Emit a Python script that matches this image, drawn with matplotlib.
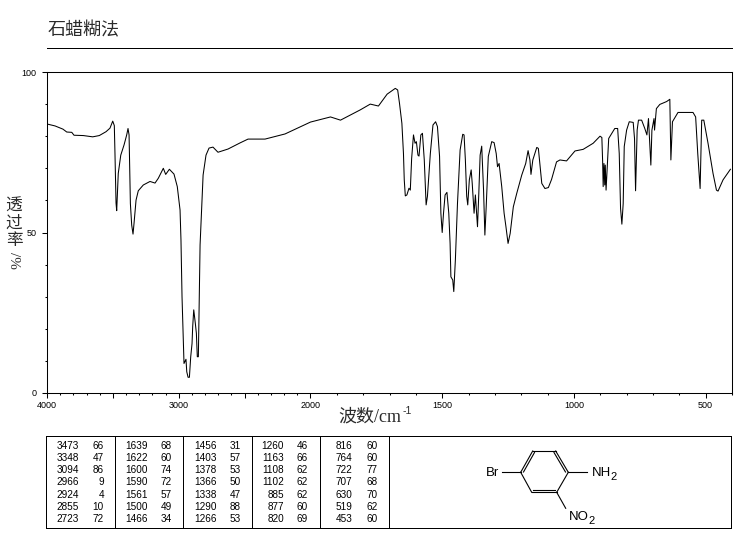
#!/usr/bin/env python3
"""IR spectrum chart (paraffin mull) with peak table and structure."""

import matplotlib
matplotlib.use('Agg')
import matplotlib.pyplot as plt
import numpy as np
from matplotlib.ticker import FixedLocator, FixedFormatter

# ============================================================
# DATA
# ============================================================

wavenumber = [
    4000, 3939, 3879, 3850, 3812, 3795, 3724, 3653, 3603, 3552, 3522, 3501, 3489, 3484, 3476, 3471,
    3459, 3440, 3415, 3395, 3385, 3377, 3367, 3357, 3347, 3339, 3324, 3307, 3269, 3218, 3180, 3155,
    3117, 3099, 3071, 3036, 3011, 2990, 2983, 2975, 2965, 2960, 2945, 2939, 2929, 2919, 2909, 2899,
    2894, 2886, 2874, 2866, 2859, 2851, 2846, 2838, 2833, 2815, 2793, 2770, 2740, 2702, 2671, 2626,
    2535, 2474, 2345, 2193, 2000, 1924, 1886, 1811, 1773, 1742, 1709, 1678, 1669, 1662, 1653, 1647,
    1644, 1640, 1634, 1626, 1621, 1616, 1609, 1603, 1598, 1592, 1588, 1581, 1575, 1568, 1561, 1556,
    1545, 1535, 1525, 1518, 1510, 1505, 1500, 1495, 1489, 1482, 1475, 1470, 1467, 1460, 1456, 1450,
    1442, 1432, 1422, 1417, 1412, 1407, 1403, 1397, 1390, 1386, 1379, 1374, 1366, 1361, 1356, 1350,
    1343, 1338, 1333, 1325, 1312, 1303, 1295, 1290, 1284, 1274, 1265, 1258, 1250, 1242, 1230, 1217,
    1198, 1183, 1174, 1167, 1163, 1156, 1141, 1135, 1122, 1110, 1097, 1085, 1066, 1053, 1028, 996,
    965, 927, 901, 894, 891, 889, 886, 883, 881, 878, 868, 845, 834, 828, 823, 818,
    813, 809, 800, 790, 775, 770, 766, 760, 755, 743, 731, 723, 717, 708, 704, 696,
    694, 687, 674, 648, 636, 632, 626, 605, 573, 548, 538, 530, 521, 515, 507, 491,
    472, 459, 453, 434, 406,
]
transmittance = [
    83.8, 83.2, 82.2, 81.3, 81.2, 80.3, 80.2, 79.8, 80.2, 81.4, 82.5, 84.7, 83.3, 74.6, 59.2, 56.8,
    68.4, 74.1, 77.3, 80.4, 82.4, 80.4, 59.0, 52.3, 49.5, 53.0, 60.1, 63.0, 64.8, 65.9, 65.4, 66.9,
    70.0, 68.1, 69.7, 68.2, 64.3, 57.0, 47.7, 30.0, 16.0, 9.2, 10.5, 6.6, 4.9, 4.9, 11.3, 15.4,
    20.7, 25.9, 21.7, 18.6, 11.3, 11.3, 24.3, 46.1, 50.8, 67.9, 74.1, 76.3, 76.6, 75.0, 75.4, 76.0,
    77.9, 79.1, 79.1, 80.7, 84.4, 86.0, 85.0, 88.2, 90.0, 89.4, 93.1, 94.9, 94.4, 90.2, 84.0, 74.6,
    66.4, 61.4, 61.7, 63.8, 63.2, 73.0, 80.4, 77.8, 78.3, 74.1, 73.8, 80.4, 80.9, 72.6, 58.6, 61.3,
    74.6, 83.5, 84.5, 83.0, 73.7, 56.0, 50.0, 56.0, 61.7, 62.5, 56.0, 46.6, 36.2, 35.2, 31.6, 41.4,
    59.0, 75.7, 80.6, 80.4, 72.6, 61.3, 58.6, 66.4, 69.5, 65.3, 56.0, 61.7, 51.8, 62.2, 74.1, 76.9,
    63.2, 49.2, 58.0, 73.7, 78.3, 78.0, 74.6, 70.5, 71.5, 64.3, 56.0, 51.8, 46.6, 49.7, 58.0, 62.2,
    67.9, 71.5, 75.5, 72.6, 68.1, 72.6, 76.5, 76.2, 65.3, 63.7, 64.0, 66.5, 72.0, 72.6, 72.3, 75.4,
    75.9, 77.8, 80.0, 79.6, 72.1, 64.3, 71.5, 64.8, 71.0, 63.2, 79.3, 82.4, 82.4, 74.6, 57.5, 52.6,
    59.0, 76.8, 81.9, 84.5, 84.3, 79.3, 63.0, 81.9, 85.0, 85.0, 82.4, 80.4, 85.5, 71.0, 81.9, 85.5,
    81.9, 88.6, 89.9, 90.8, 91.5, 72.6, 84.5, 87.4, 87.4, 87.4, 86.0, 74.6, 63.7, 85.0, 85.0, 77.8,
    68.4, 63.2, 62.9, 66.4, 69.7,
]

x_major = [4000, 3500, 3000, 2500, 2000, 1500, 1000, 500]
x_labels = ['4000', '', '3000', '', '2000', '1500', '1000', '500']
x_minor = list(range(400, 4000, 100))
y_major = [0, 50, 100]
y_minor = list(range(0, 101, 10))

# peak table, one (wavenumber, %T) column per block
peak_wn = [
    [3473, 3348, 3094, 2966, 2924, 2855, 2723],
    [1639, 1622, 1600, 1590, 1561, 1500, 1466],
    [1456, 1403, 1378, 1366, 1338, 1290, 1266],
    [1260, 1163, 1108, 1102, 885, 877, 820],
    [816, 764, 722, 707, 630, 519, 453],
]
peak_t = [
    [66, 47, 86, 9, 4, 10, 72],
    [68, 60, 74, 72, 57, 49, 34],
    [31, 57, 53, 50, 47, 88, 53],
    [46, 66, 62, 62, 62, 60, 69],
    [60, 60, 77, 68, 70, 62, 60],
]

W, H = 737, 539
SANS = 'Liberation Sans'
CJK = ['Liberation Serif', 'Noto Sans CJK SC', 'DejaVu Sans']
INK = '#2a2a2a'
RULE = 0.7


# axis is compressed 2:1 above 2000 cm-1
def forward(w):
    w = np.asarray(w, dtype=float)
    return np.where(w > 2000, 1600 + (w - 2000) * 0.5, w - 400)


def inverse(u):
    u = np.asarray(u, dtype=float)
    return np.where(u > 1600, 2000 + (u - 1600) * 2, u + 400)


fig = plt.figure(figsize=(W / 100, H / 100), dpi=100, facecolor='white')

# ============================================================
# SPECTRUM
# ============================================================

ax = fig.add_axes([47 / W, 1 - 393 / H, 685 / W, 321 / H])
ax.set_xscale('function', functions=(forward, inverse))
ax.plot(wavenumber, transmittance, color='black', lw=0.75, antialiased=True)
ax.set_xlim(4000, 400)
ax.set_ylim(0, 100)
ax.xaxis.set_major_locator(FixedLocator(x_major))
ax.xaxis.set_major_formatter(FixedFormatter(x_labels))
ax.xaxis.set_minor_locator(FixedLocator(x_minor))
ax.yaxis.set_major_locator(FixedLocator(y_major))
ax.yaxis.set_minor_locator(FixedLocator(y_minor))
ax.tick_params(axis='both', which='major', length=3.5, width=0.75, labelsize=6.5, pad=2.5)
ax.tick_params(axis='both', which='minor', length=1.6, width=0.75)
ax.tick_params(axis='y', which='major', pad=4)
for label in ax.get_xticklabels() + ax.get_yticklabels():
    label.set_fontfamily(SANS)
for spine in ax.spines.values():
    spine.set_linewidth(0.75)

# ============================================================
# OVERLAY IN PIXEL COORDS: titles, table, structure
# ============================================================

ov = fig.add_axes([0, 0, 1, 1], zorder=5)
ov.set_xlim(0, W)
ov.set_ylim(H, 0)
ov.axis('off')
ov.patch.set_alpha(0)

ov.text(48, 31, '石蜡糊法', fontsize=13, family=CJK, color=INK, va='center', ha='left')
ov.plot([47, 732], [47.5, 47.5], color='black', lw=RULE, antialiased=False)

ov.text(338, 417, '波数/cm', fontsize=13, family=CJK, color=INK, va='center', ha='left')
ov.text(403, 411, '-1', fontsize=7.5, family=SANS, color=INK, va='center', ha='left')

for i, ch in enumerate('透过率'):
    ov.text(14, 207 + i * 17, ch, fontsize=12, family=CJK, color=INK, va='center', ha='center')
ov.text(14, 260, '/%', fontsize=11, family='Liberation Serif', color=INK,
        rotation=-90, va='center', ha='center')

# peak table
ov.plot([46.5, 731.5, 731.5, 46.5, 46.5], [436, 436, 528, 528, 436],
        color='black', lw=RULE, antialiased=False)
for xc in [115, 183.5, 252, 320.5, 389.5]:
    ov.plot([xc, xc], [436, 528], color='black', lw=RULE, antialiased=False)

wn_right = [79, 148, 216.5, 284, 352.5]
t_right = [104, 172, 240.5, 308, 377.5]
for c in range(len(peak_wn)):
    for r in range(len(peak_wn[c])):
        y = 445.7 + r * 12.2
        ov.text(wn_right[c], y, str(peak_wn[c][r]), fontsize=7.2, family=SANS,
                ha='right', va='center')
        ov.text(t_right[c], y, str(peak_t[c][r]), fontsize=7.2, family=SANS,
                ha='right', va='center')

# structure of the compound
ring = [(520.7, 472.3), (532.7, 451), (555.7, 451), (568.3, 472.3), (556.7, 492.3), (531.7, 492.3)]
for i in range(6):
    a, b = ring[i], ring[(i + 1) % 6]
    ov.plot([a[0], b[0]], [a[1], b[1]], color='black', lw=0.8)
# inner lines of the double bonds
ov.plot([523.5, 534.5], [472, 452.5], color='black', lw=0.8)
ov.plot([554, 565.5], [452.5, 472], color='black', lw=0.8)
ov.plot([533, 555.5], [489.5, 489.5], color='black', lw=0.8)
# substituent bonds
ov.plot([501.7, 520.7], [472.3, 472.3], color='black', lw=0.8)
ov.plot([568.3, 587.3], [472.3, 472.3], color='black', lw=0.8)
ov.plot([556.7, 565.7], [492.3, 508.3], color='black', lw=0.8)

ov.text(485.5, 472.5, 'Br', fontsize=9.5, family=SANS, va='center', ha='left')
ov.text(591.5, 472.5, 'NH', fontsize=9.5, family=SANS, va='center', ha='left')
ov.text(610, 477, '2', fontsize=8, family=SANS, va='center', ha='left')
ov.text(569, 517, 'NO', fontsize=9.5, family=SANS, va='center', ha='left')
ov.text(588, 521, '2', fontsize=8, family=SANS, va='center', ha='left')

fig.savefig('out.png', dpi=100, facecolor='white')
